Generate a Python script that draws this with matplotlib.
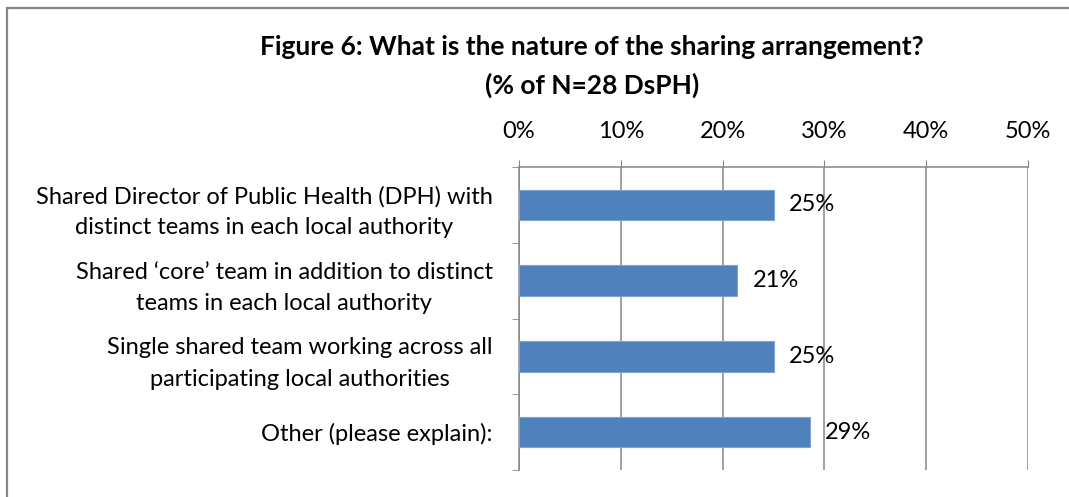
import numpy as np
import matplotlib.pyplot as plt
from matplotlib.patches import Rectangle

plt.rcParams['font.family'] = ['Lato', 'DejaVu Sans']

categories = ['Shared Director of Public Health (DPH) with\ndistinct teams in each local authority',
              'Shared \u2018core\u2019 team in addition to distinct\nteams in each local authority',
              'Single shared team working across all\nparticipating local authorities',
              'Other (please explain):']
counts = [7, 6, 7, 8]
n_total = 28
values = [c / n_total * 100 for c in counts]
value_labels = ['25%', '21%', '25%', '29%']
xticks = [0, 10, 20, 30, 40, 50]
xtick_labels = ['0%', '10%', '20%', '30%', '40%', '50%']

grey = '#868686'
fs = 17

fig = plt.figure(figsize=(10.69, 4.97), dpi=100)
ax = fig.add_axes([519 / 1069, 1 - 470 / 497, (1028 - 519) / 1069, (470 - 167) / 497])

# cropped frame: only left and top edges show
fig.patches.append(Rectangle((6.5 / 1069, -0.1), 1.2, 1 - 7.5 / 497 + 0.1,
                             transform=fig.transFigure, fill=False,
                             edgecolor=grey, linewidth=1.6))

y = np.arange(len(categories))
ax.barh(y, values, height=0.4, color='#4F81BD', edgecolor='#7FA3D3', linewidth=0.8, zorder=3)

for yi, v, lab in zip(y, values, value_labels):
    ax.annotate(lab, (v, yi), xytext=(11, 0), textcoords='offset points',
                va='center', ha='left', fontsize=fs, zorder=4)

ax.set_xlim(0, 50)
ax.set_ylim(len(categories) - 0.5, -0.5)
ax.xaxis.tick_top()
ax.set_xticks(xticks)
ax.set_xticklabels(xtick_labels, fontsize=fs)
ax.tick_params(axis='x', direction='out', length=5, color=grey, pad=13)
ax.grid(axis='x', color=grey, linewidth=1.1, zorder=0)

ax.set_yticks(y)
ax.set_yticklabels(categories, fontsize=fs, ha='right', multialignment='center', linespacing=1.6)
ax.set_yticks(np.arange(-0.5, len(categories)), minor=True)
ax.tick_params(axis='y', which='major', length=0, pad=19)
ax.tick_params(axis='y', which='minor', direction='out', length=5, color=grey)

for side in ['right', 'bottom']:
    ax.spines[side].set_visible(False)
for side in ['left', 'top']:
    ax.spines[side].set_color(grey)
    ax.spines[side].set_linewidth(1.1)

fig.text(592 / 1069, 1 - 47 / 497, 'Figure 6: What is the nature of the sharing arrangement?',
         ha='center', va='center', fontsize=19, fontweight='bold')
fig.text(592 / 1069, 1 - 85 / 497, '(% of N=28 DsPH)',
         ha='center', va='center', fontsize=19, fontweight='bold')

fig.savefig('out.png', dpi=100)
